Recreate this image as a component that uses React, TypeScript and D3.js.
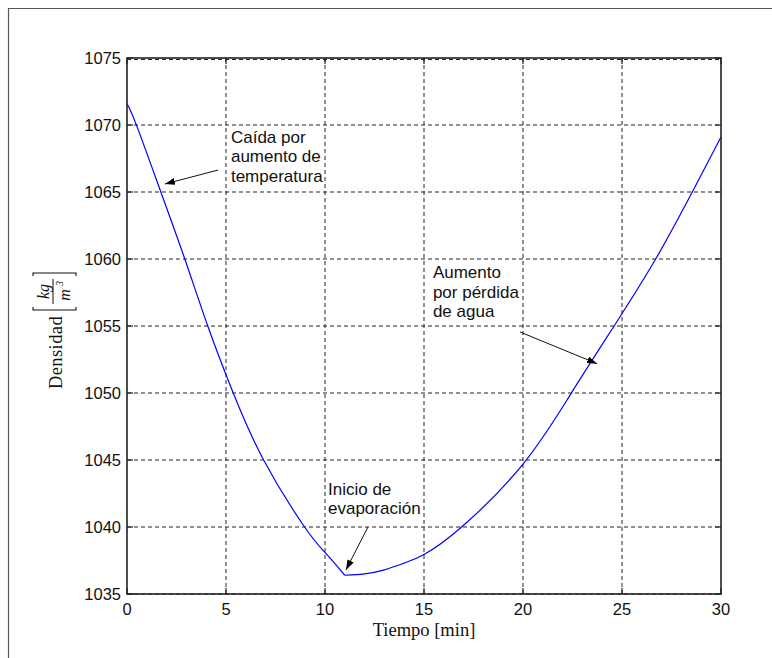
import * as d3 from 'd3';
import React from 'react';

// curve, split at the start of evaporation (kink at t = 11)
const descTime = [0, 0.5, 1.71, 2.92, 4.08, 5.31, 6.9, 8.97, 10, 11];
const descDensity = [1071.6, 1069.9, 1065, 1060, 1055, 1050.2, 1045, 1040, 1038.1, 1036.4];
const riseTime = [11, 12, 13, 14, 15, 16.9, 20, 22.4, 24.6, 26.7, 28.55, 30];
const riseDensity = [1036.4, 1036.5, 1036.8, 1037.3, 1037.95, 1040, 1044.7, 1049.9, 1055, 1060, 1065, 1069.1];

const xTicks = [0, 5, 10, 15, 20, 25, 30];
const yTicks = [1035, 1040, 1045, 1050, 1055, 1060, 1065, 1070, 1075];

const noteLines = [
  ['Caída por', 'aumento de', 'temperatura'],
  ['Inicio de', 'evaporación'],
  ['Aumento', 'por pérdida', 'de agua'],
];
const noteAt = [[5.25, 1068.66], [10.15, 1042.39], [15.45, 1058.58]];
const arrowFrom = [[4.6, 1066.64], [12.17, 1040.0], [19.85, 1054.55]];
const arrowTo = [[1.92, 1065.6], [11.06, 1036.8], [23.74, 1052.19]];

const W = 772;
const H = 658;
const margin = { top: 58, right: 51, bottom: 64, left: 127 };
const sans = '"Liberation Sans", Arial, Helvetica, sans-serif';
const serif = '"Liberation Serif", "Times New Roman", Times, serif';

export default function App() {
  const x = d3.scaleLinear().domain([0, 30]).range([margin.left, W - margin.right]);
  const y = d3.scaleLinear().domain([1035, 1075]).range([H - margin.bottom, margin.top]);

  const mk = (ts: number[], ds: number[]) =>
    d3
      .line<number>()
      .x((t) => x(t))
      .y((_, i) => y(ds[i]))
      .curve(d3.curveNatural)(ts) || '';

  const x0 = x(0);
  const x1 = x(30);
  const y0 = y(1035);
  const y1 = y(1075);

  return (
    <div style={{ position: 'fixed', left: 0, top: 0 }}>
      <svg width={W} height={H} viewBox={`0 0 ${W} ${H}`} style={{ display: 'block', background: '#fff' }}>
        <defs>
          <marker id="ah" markerUnits="userSpaceOnUse" markerWidth="11" markerHeight="8"
            refX="10" refY="3.5" orient="auto">
            <path d="M0,0 L10,3.5 L0,7 z" fill="#000" />
          </marker>
        </defs>

        {/* outer frame */}
        <line x1={8} x2={W} y1={8.5} y2={8.5} stroke="#555" strokeWidth={1.2} />
        <line x1={8.5} x2={8.5} y1={8} y2={H} stroke="#555" strokeWidth={1.2} />

        {/* grid */}
        <g stroke="#222" strokeWidth={1} strokeDasharray="4 3" fill="none">
          {xTicks.slice(1, -1).map((t) => (
            <line key={'gx' + t} x1={x(t)} x2={x(t)} y1={y1} y2={y0} />
          ))}
          {yTicks.map((v) => (
            <line key={'gy' + v} x1={x0} x2={x1} y1={y(v) + (v === 1075 ? 1.5 : 0)} y2={y(v) + (v === 1075 ? 1.5 : 0)} />
          ))}
        </g>

        {/* curve */}
        <path d={mk(descTime, descDensity)} fill="none" stroke="#0000ff" strokeWidth={1.2} />
        <path d={mk(riseTime, riseDensity)} fill="none" stroke="#0000ff" strokeWidth={1.2} />

        {/* box + inward ticks */}
        <rect x={x0} y={y1} width={x1 - x0} height={y0 - y1} fill="none" stroke="#222" strokeWidth={1.6} />
        <g stroke="#222" strokeWidth={1.2}>
          {xTicks.map((t) => (
            <g key={'tx' + t}>
              <line x1={x(t)} x2={x(t)} y1={y0} y2={y0 - 6} />
              <line x1={x(t)} x2={x(t)} y1={y1} y2={y1 + 6} />
            </g>
          ))}
          {yTicks.map((v) => (
            <g key={'ty' + v}>
              <line x1={x0} x2={x0 + 6} y1={y(v)} y2={y(v)} />
              <line x1={x1} x2={x1 - 6} y1={y(v)} y2={y(v)} />
            </g>
          ))}
        </g>

        {/* tick labels */}
        <g fontFamily={sans} fontSize={16.5} fill="#111">
          {yTicks.map((v) => (
            <text key={'ly' + v} x={x0 - 6} y={y(v)} dy="0.36em" textAnchor="end">{v}</text>
          ))}
          {xTicks.map((t) => (
            <text key={'lx' + t} x={x(t)} y={y0 + 20.5} textAnchor="middle">{t}</text>
          ))}
        </g>

        {/* axis labels */}
        <text x={(x0 + x1) / 2} y={636} textAnchor="middle" fontFamily={serif} fontSize={18.5} fill="#111">
          Tiempo [min]
        </text>
        <g transform="translate(54,331) rotate(-90)" fontFamily={serif} fill="#111">
          <text x={-58} y={7.5} fontSize={18.5} letterSpacing={0.4}>Densidad</text>
          <path d="M24,-21 L21,-21 L21,22 L24,22 M55,-21 L58,-21 L58,22 L55,22" fill="none" stroke="#111" strokeWidth={1.1} />
          <line x1={27} x2={52} y1={-1} y2={-1} stroke="#111" strokeWidth={1} />
          <text x={39.5} y={-5} fontSize={16} fontStyle="italic" textAnchor="middle">kg</text>
          <text x={36} y={16} fontSize={16} fontStyle="italic" textAnchor="middle">m</text>
          <text x={45} y={9} fontSize={10} fontStyle="italic">3</text>
        </g>

        {/* annotations */}
        <g fontFamily={sans} fontSize={17} fill="#111">
          {noteLines.map((lines, i) => (
            <text key={'n' + i} x={x(noteAt[i][0])} y={y(noteAt[i][1])}>
              {lines.map((s, j) => (
                <tspan key={j} x={x(noteAt[i][0])} dy={j === 0 ? 0 : 19.5}>{s}</tspan>
              ))}
            </text>
          ))}
        </g>
        <g stroke="#111" strokeWidth={1}>
          {arrowFrom.map((p, i) => (
            <line key={'a' + i} x1={x(p[0])} y1={y(p[1])} x2={x(arrowTo[i][0])} y2={y(arrowTo[i][1])} markerEnd="url(#ah)" />
          ))}
        </g>
      </svg>
    </div>
  );
}
